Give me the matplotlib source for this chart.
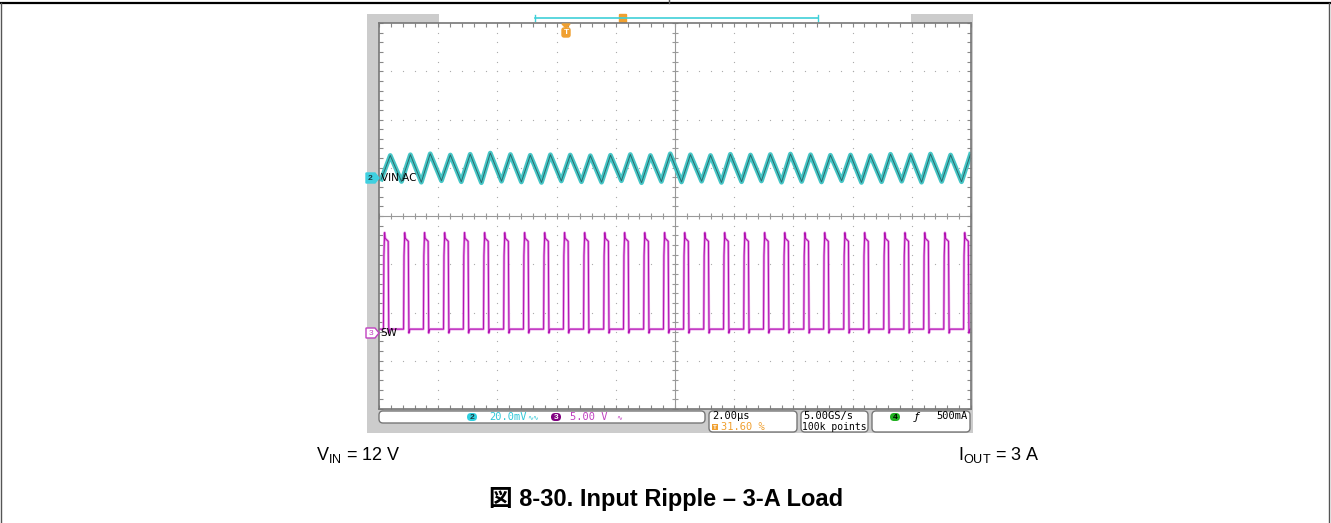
import numpy as np
import matplotlib
matplotlib.use("Agg")
import matplotlib.pyplot as plt
from matplotlib.patches import Rectangle, FancyBboxPatch, Polygon

plt.rcParams['font.family'] = ['Liberation Sans', 'Noto Sans CJK JP', 'DejaVu Sans']
plt.rcParams['mathtext.fontset'] = 'custom'
plt.rcParams['mathtext.rm'] = 'Liberation Sans'

# ---- scope settings ----
time_per_div_us = 2.0
trigger_pos_pct = 31.60
ch2_mv_per_div = 20.0
ch3_v_per_div = 5.0
ch2_ground_div = 4.79
ch3_ground_div = 1.575

# ---- CH2: VIN AC ripple, vertices (us, mV) ----
vin_peak_us = [-5.94, -5.26, -4.59, -3.91, -3.24, -2.56, -1.88, -1.21, -0.53, 0.14,
               0.82, 1.50, 2.17, 2.85, 3.52, 4.20, 4.88, 5.55, 6.23, 6.90,
               7.58, 8.26, 8.93, 9.61, 10.28, 10.96, 11.64, 12.31, 12.99, 13.66]
vin_peak_mv = [9.3, 9.6, 10.0, 9.5, 9.8, 10.3, 9.7, 9.4, 9.6, 9.5,
               9.2, 9.4, 9.7, 9.3, 10.0, 9.6, 9.3, 9.8, 9.5, 9.7,
               9.9, 9.6, 9.4, 9.5, 9.3, 9.8, 9.6, 9.9, 9.5, 9.7]
vin_trough_us = [-6.24, -5.56, -4.89, -4.21, -3.54, -2.86, -2.18, -1.51, -0.83, -0.16,
                 0.52, 1.20, 1.87, 2.55, 3.22, 3.90, 4.58, 5.25, 5.93, 6.60,
                 7.28, 7.96, 8.63, 9.31, 9.98, 10.66, 11.34, 12.01, 12.69, 13.36]
vin_trough_mv = [-0.5, -1.5, -1.8, -1.2, -1.6, -2.0, -1.4, -1.7, -1.9, -1.3,
                 -1.6, -1.8, -1.2, -2.0, -1.5, -1.7, -1.4, -1.9, -1.6, -1.3,
                 -1.8, -1.5, -1.7, -1.2, -1.9, -1.6, -1.4, -1.8, -1.5, -1.6]

# ---- CH3: SW node, pulse start times (us) ----
sw_on_us = [-6.17, -5.49, -4.82, -4.14, -3.47, -2.79, -2.11, -1.44, -0.76, -0.09,
            0.59, 1.27, 1.94, 2.62, 3.29, 3.97, 4.65, 5.32, 6.00, 6.67,
            7.35, 8.03, 8.70, 9.38, 10.05, 10.73, 11.41, 12.08, 12.76, 13.43]
sw_high_v = 9.8
sw_peak_v = 10.4
sw_low_v = 0.4
sw_width_us = 0.17

t0 = -time_per_div_us * 10 * trigger_pos_pct / 100.0
t1 = t0 + time_per_div_us * 10
W, H = 1331, 523

fig = plt.figure(figsize=(W / 100, H / 100), dpi=100)

# background layer (pixel coords)
bg = fig.add_axes([0, 0, 1, 1], zorder=0)
bg.set_xlim(0, W)
bg.set_ylim(H, 0)
bg.axis('off')
bg.plot([0, W], [3, 3], color='black', lw=1.6)
bg.plot([1, 1], [3, H], color='#555555', lw=1.0)
bg.plot([W - 2, W - 2], [3, H], color='#555555', lw=1.0)
bg.plot([669, 669], [0, 3], color='#555555', lw=1.0)
bg.add_patch(Rectangle((367, 14), 606, 419, color='#cccccc', lw=0))
bg.add_patch(Rectangle((439, 14), 472, 9, color='white', lw=0))
bg.plot([535, 818], [18, 18], color='#3fd0d8', lw=1.2)
bg.plot([535, 535], [15, 21], color='#3fd0d8', lw=1.0)
bg.plot([818, 818], [15, 21], color='#3fd0d8', lw=1.0)
bg.add_patch(FancyBboxPatch((620, 15), 6, 7, boxstyle='round,pad=0.5', fc='#f0a030', ec='#f0a030'))

# status bar
boxes = [(379, 411, 326, 12), (709, 411, 88, 21), (801, 411, 67, 21), (872, 411, 98, 21)]
for bx, by, bw, bh in boxes:
    bg.add_patch(FancyBboxPatch((bx, by), bw, bh, boxstyle='round,pad=0,rounding_size=4',
                                fc='white', ec='#777777', lw=1.0))
sfont = dict(fontsize=7.5, family='DejaVu Sans Mono', va='center')
bg.add_patch(FancyBboxPatch((467, 413), 10, 8, boxstyle='round,pad=0,rounding_size=4', fc='#30d0e0', ec='none'))
bg.text(472, 417.5, '2', ha='center', color='#1a3a40', fontsize=6, va='center', fontweight='bold')
bg.text(489, 417, '20.0mV', color='#30c8d8', ha='left', **sfont)
bg.text(527, 417, '∿∿', color='#30c8d8', ha='left', fontsize=5, va='center', family='DejaVu Sans')
bg.add_patch(FancyBboxPatch((551, 413), 10, 8, boxstyle='round,pad=0,rounding_size=4', fc='#800080', ec='none'))
bg.text(556, 417.5, '3', ha='center', color='white', fontsize=6, va='center', fontweight='bold')
bg.text(570, 417, '5.00 V', color='#c040c0', ha='left', **sfont)
bg.text(616, 417, '∿', color='#c040c0', ha='left', fontsize=5, va='center', family='DejaVu Sans')
bg.text(712, 416, '2.00µs', color='black', ha='left', **sfont)
bg.add_patch(Rectangle((712, 424), 6, 6, color='#f0a030', lw=0))
bg.text(715, 427.3, 'T', color='white', ha='center', fontsize=4.5, va='center', fontweight='bold')
bg.text(721, 427, '31.60 %', color='#f0a030', ha='left', **sfont)
bg.text(803, 416, '5.00GS/s', color='black', ha='left', **sfont)
bg.text(802, 427, '100k points', color='black', ha='left', fontsize=7, family='DejaVu Sans Mono', va='center')
bg.add_patch(FancyBboxPatch((890, 413), 10, 8, boxstyle='round,pad=0,rounding_size=4', fc='#20b020', ec='none'))
bg.text(895, 417.5, '4', ha='center', color='black', fontsize=6, va='center', fontweight='bold')
bg.text(917, 417, 'ƒ', color='black', ha='center', fontsize=8, va='center', family='DejaVu Sans', style='italic')
bg.text(968, 416, '500mA', color='black', ha='right', **sfont)

# captions
bg.text(316, 455, r'V$_{\mathregular{IN}}$ = 12 V', fontsize=13, ha='left', va='center')
bg.text(958, 455, r'I$_{\mathregular{OUT}}$ = 3 A', fontsize=13, ha='left', va='center')
bg.text(666, 499, '図 8-30. Input Ripple – 3-A Load', fontsize=17, fontweight='bold',
        ha='center', va='center')

# scope graticule
ax = fig.add_axes([379 / W, 1 - 409 / H, 592 / W, 386 / H], zorder=2)
ax.set_xlim(t0, t1)
ax.set_ylim(0, 8)
ax.set_facecolor('white')
for s in ax.spines.values():
    s.set_color('#777777')
    s.set_linewidth(1.2)
xminor = t0 + 0.4 * np.arange(51)
yminor = 0.2 * np.arange(41)
ax.set_xticks(xminor)
ax.set_yticks(yminor)
ax.tick_params(direction='in', length=3, width=0.8, color='#888888', top=True, right=True,
               labelbottom=False, labelleft=False)
xc = t0 + 5 * time_per_div_us
for k in range(1, 10):
    if k == 5:
        continue
    ax.plot(np.full(41, t0 + k * time_per_div_us), yminor, ls='none', marker='o', ms=0.9,
            color='#aaaaaa', mew=0)
for k in range(1, 8):
    if k == 4:
        continue
    ax.plot(xminor, np.full(51, k), ls='none', marker='o', ms=0.9, color='#aaaaaa', mew=0)
ax.axvline(xc, color='#999999', lw=0.8)
ax.axhline(4, color='#999999', lw=0.8)
ax.plot(xminor, np.full(51, 4), ls='none', marker='|', ms=4, color='#999999', mew=0.8)
ax.plot(np.full(41, xc), yminor, ls='none', marker='_', ms=4, color='#999999', mew=0.8)

# CH2 trace
vt = np.array(vin_peak_us + vin_trough_us)
vv = np.array(vin_peak_mv + vin_trough_mv)
order = np.argsort(vt)
vt, vv = vt[order], vv[order]
vy = ch2_ground_div + vv / ch2_mv_per_div
ax.plot(vt, vy, color='#45c6c6', lw=3.4, solid_joinstyle='round')
ax.plot(vt, vy, color='#2a6a6c', lw=0.7)

# CH3 trace
st, sv = [t0], [sw_low_v]
for t in sw_on_us:
    st += [t, t + 0.015, t + 0.04, t + 0.06, t + sw_width_us - 0.01, t + sw_width_us + 0.01, t + sw_width_us + 0.04]
    sv += [sw_low_v, 8.0, sw_peak_v, sw_high_v, sw_high_v - 0.3, 0.0, sw_low_v]
st.append(t1)
sv.append(sw_low_v)
sy = ch3_ground_div + np.array(sv) / ch3_v_per_div
ax.plot(st, sy, color='#e490e4', lw=1.8, solid_joinstyle='round')
ax.plot(st, sy, color='#b010b0', lw=0.7)

# foreground markers (pixel coords)
fg = fig.add_axes([0, 0, 1, 1], zorder=3)
fg.set_xlim(0, W)
fg.set_ylim(H, 0)
fg.axis('off')
fg.patch.set_alpha(0)
fg.add_patch(Polygon([[366, 173], [375, 173], [379, 178], [375, 183], [366, 183]], closed=True,
                     fc='#3fd0e0', ec='#3fd0e0'))
fg.text(370.5, 178.3, '2', color='#1a3a40', fontsize=6, ha='center', va='center', fontweight='bold')
fg.text(381, 178, 'VIN AC', fontsize=7.5, ha='left', va='center', family='DejaVu Sans')
fg.add_patch(Polygon([[366, 328], [375, 328], [379, 333], [375, 338], [366, 338]], closed=True,
                     fc='white', ec='#c040c0', lw=1))
fg.text(370.5, 333.3, '3', color='#c040c0', fontsize=6, ha='center', va='center')
fg.text(380, 333, 'SW', fontsize=7.5, ha='left', va='center', family='DejaVu Sans')
fg.add_patch(Polygon([[562, 24], [570, 24], [566, 28]], closed=True, fc='#f0a030', ec='#f0a030'))
fg.add_patch(FancyBboxPatch((562, 28), 8, 9, boxstyle='round,pad=0,rounding_size=2', fc='#f0a030', ec='#f0a030'))
fg.text(566, 32.8, 'T', color='white', fontsize=6, ha='center', va='center', fontweight='bold')

fig.savefig('out.png', dpi=100)
